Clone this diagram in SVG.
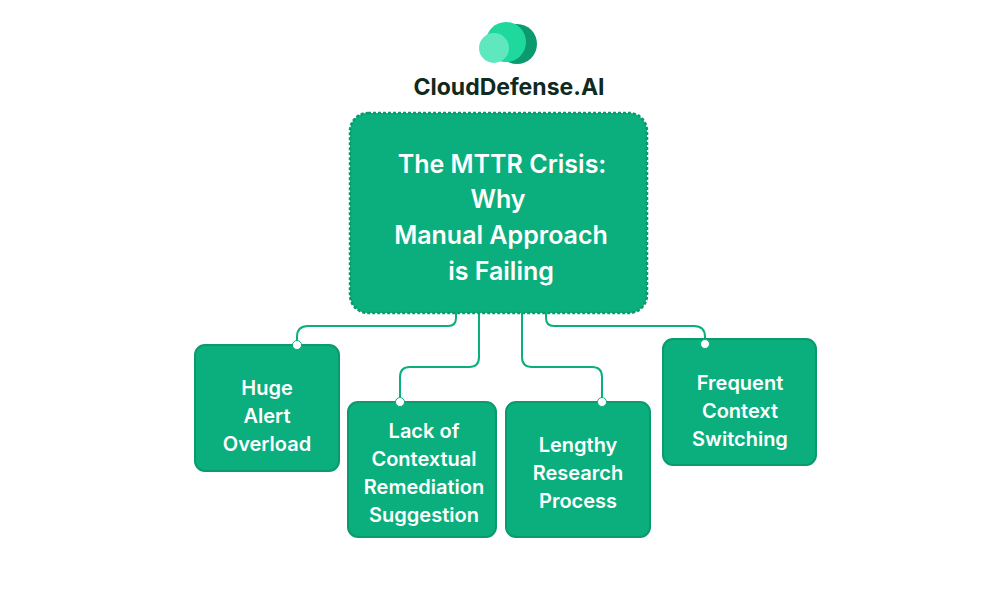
<svg xmlns="http://www.w3.org/2000/svg" width="1000" height="608" viewBox="0 0 1000 608">
<style>
.n{fill:#0bae7d;stroke:#0a9a6d;stroke-width:2}
.t{fill:#fff;font-family:Inter,"Liberation Sans",sans-serif;font-weight:600;font-size:20px;text-anchor:middle}
.b{font-size:25px}
.c{fill:none;stroke:#0bae7d;stroke-width:2}
.d{fill:#fff;stroke:#0bae7d;stroke-width:1}
</style>
<rect width="1000" height="608" fill="#fff"/>
<g id="logo">
<circle cx="517" cy="44" r="20" fill="#0a9a6d"/>
<circle cx="506" cy="42" r="20" fill="#1fd99c"/>
<circle cx="494" cy="48" r="15" fill="#5fe8bd"/>
<text x="509" y="95" font-family="Inter,'Liberation Sans',sans-serif" font-weight="700" font-size="23" fill="#0f2a20" text-anchor="middle">CloudDefense.AI</text>
</g>
<g id="connectors">
<path class="c" d="M456 313V318Q456 326 448 326H308Q297 326 297 337V345"/>
<path class="c" d="M479 313V357Q479 367 469 367H410Q400 367 400 377V402"/>
<path class="c" d="M522 313V357Q522 367 532 367H592Q602 367 602 377V402"/>
<path class="c" d="M546 313V318Q546 326 554 326H694Q705 326 705 337V344"/>
</g>
<g id="main">
<rect x="350" y="113" width="297" height="200" rx="18" fill="#0bae7d" stroke="#0a9a6d" stroke-width="2.5" stroke-dasharray="3 2"/>
<text class="t b" x="502" y="173">The MTTR Crisis:</text>
<text class="t b" x="498" y="208">Why</text>
<text class="t b" x="501" y="244">Manual Approach</text>
<text class="t b" x="501" y="280">is Failing</text>
</g>
<g id="n1"><rect class="n" x="195" y="345" width="144" height="126" rx="10"/><circle class="d" cx="297" cy="345" r="4.5"/>
<text class="t" x="267" y="395">Huge</text><text class="t" x="267" y="423">Alert</text><text class="t" x="267" y="451">Overload</text></g>
<g id="n2"><rect class="n" x="348" y="402" width="148" height="135" rx="10"/><circle class="d" cx="400" cy="402" r="4.5"/>
<text class="t" x="424" y="438">Lack of</text><text class="t" x="424" y="466">Contextual</text><text class="t" x="424" y="494">Remediation</text><text class="t" x="424" y="522">Suggestion</text></g>
<g id="n3"><rect class="n" x="506" y="402" width="144" height="135" rx="10"/><circle class="d" cx="602" cy="402" r="4.5"/>
<text class="t" x="578" y="452">Lengthy</text><text class="t" x="578" y="480">Research</text><text class="t" x="578" y="508">Process</text></g>
<g id="n4"><rect class="n" x="663" y="339" width="153" height="126" rx="10"/><circle class="d" cx="705" cy="344" r="4.5"/>
<text class="t" x="740" y="390">Frequent</text><text class="t" x="740" y="418">Context</text><text class="t" x="740" y="446">Switching</text></g>
</svg>
